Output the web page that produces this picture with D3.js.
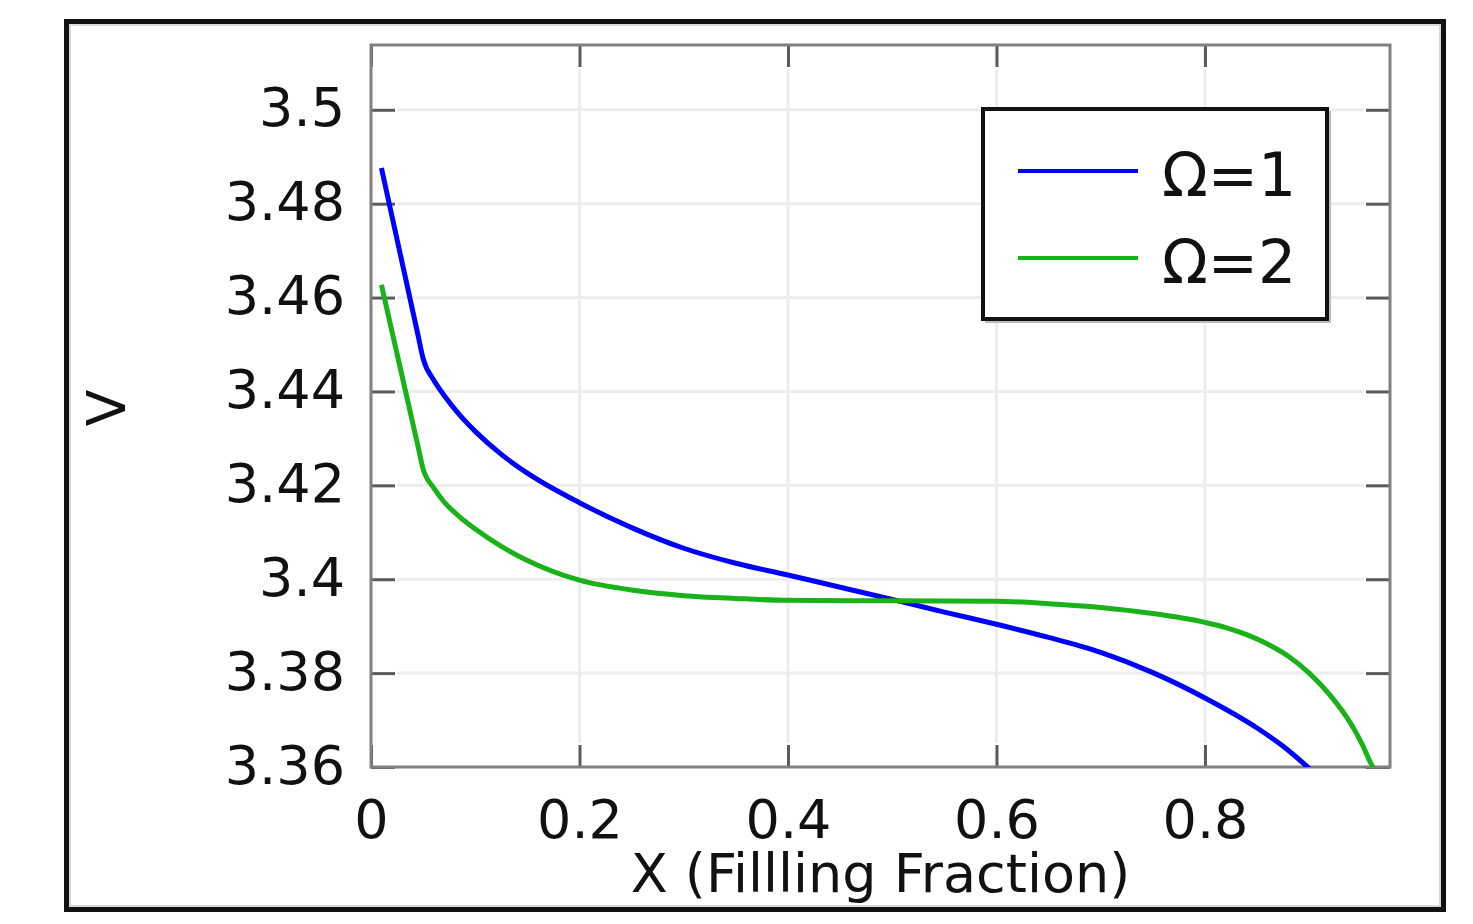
<!DOCTYPE html>
<html>
<head>
<meta charset="utf-8">
<script src="https://cdn.jsdelivr.net/npm/d3@7"></script>
<style>
  html, body { margin: 0; padding: 0; background: #fff; }
  svg { display: block; font-family: "DejaVu Sans", sans-serif; }
</style>
</head>
<body>
<svg id="chart"></svg>
<script>
// data
var xBlue = [0.01, 0.045, 0.05, 0.06, 0.07, 0.085, 0.1, 0.125, 0.15, 0.2, 0.25, 0.3, 0.35, 0.4, 0.45, 0.5, 0.55, 0.6, 0.65, 0.7, 0.75, 0.8, 0.85, 0.875, 0.9];
var vBlue = [3.4876, 3.4521, 3.4470, 3.4425, 3.4392, 3.4350, 3.4315, 3.4266, 3.4226, 3.4163, 3.4110, 3.4066, 3.4034, 3.4009, 3.3983, 3.3957, 3.3930, 3.3904, 3.3876, 3.3844, 3.3801, 3.3747, 3.3683, 3.3644, 3.3597];

var xGreen = [0.01, 0.045, 0.05, 0.06, 0.07, 0.085, 0.1, 0.125, 0.15, 0.2, 0.25, 0.3, 0.35, 0.4, 0.5, 0.6, 0.65, 0.7, 0.75, 0.8, 0.82, 0.84, 0.86, 0.88, 0.9, 0.92, 0.94, 0.95, 0.96, 0.962];
var vGreen = [3.4627, 3.4284, 3.4235, 3.4195, 3.4165, 3.4133, 3.4107, 3.4070, 3.4040, 3.3998, 3.3977, 3.3965, 3.3959, 3.3955, 3.3954, 3.3953, 3.3948, 3.3940, 3.3927, 3.3908, 3.3897, 3.3882, 3.3862, 3.3836, 3.3800, 3.3753, 3.3692, 3.3652, 3.3604, 3.3596];

var seriesNames = ['\u03A9=1', '\u03A9=2'];
var seriesColors = ['#0000ff', '#19b219'];

var xTicks = [0, 0.2, 0.4, 0.6, 0.8];
var xTickLabels = ['0', '0.2', '0.4', '0.6', '0.8'];
var yTicks = [3.36, 3.38, 3.4, 3.42, 3.44, 3.46, 3.48, 3.5];
var yTickLabels = ['3.36', '3.38', '3.4', '3.42', '3.44', '3.46', '3.48', '3.5'];

(function () {
var W = 1473, H = 924
var pLeft = 371, pRight = 1390, pTop = 45, pBottom = 767

var svg = d3.select('#chart').attr('width', W).attr('height', H)

// outer frame
svg.append('rect')
    .attr('x', 66.5).attr('y', 21.5).attr('width', 1377).attr('height', 888)
    .attr('fill', 'none').attr('stroke', '#111').attr('stroke-width', 5)
svg.append('rect')
    .attr('x', 70).attr('y', 25).attr('width', 1370).attr('height', 881)
    .attr('fill', 'none').attr('stroke', '#ccc').attr('stroke-width', 1.5)

var x = d3.scaleLinear().domain([0, 0.9775]).range([pLeft, pRight])
var y = d3.scaleLinear().domain([3.36, 3.5138]).range([pBottom, pTop])

// grid
var grid = svg.append('g')
grid.selectAll('.gx').data(xTicks.slice(1))
    .enter().append('line')
    .attr('x1', d => x(d)).attr('x2', d => x(d))
    .attr('y1', pTop + 24).attr('y2', pBottom - 24)
    .attr('stroke', '#ededed').attr('stroke-width', 3)
grid.selectAll('.gy').data(yTicks.slice(1))
    .enter().append('line')
    .attr('y1', d => y(d)).attr('y2', d => y(d))
    .attr('x1', pLeft + 26).attr('x2', pRight - 26)
    .attr('stroke', '#ededed').attr('stroke-width', 3)

// axes with inward ticks
var fmtX = d => xTickLabels[xTicks.indexOf(d)]
var fmtY = d => yTickLabels[yTicks.indexOf(d)]

var axB = svg.append('g').attr('transform', 'translate(0,' + pBottom + ')')
    .call(d3.axisBottom(x).tickValues(xTicks).tickFormat(fmtX).tickSize(-22).tickPadding(33))
var axT = svg.append('g').attr('transform', 'translate(0,' + pTop + ')')
    .call(d3.axisTop(x).tickValues(xTicks).tickFormat('').tickSize(-22))
var axL = svg.append('g').attr('transform', 'translate(' + pLeft + ',0)')
    .call(d3.axisLeft(y).tickValues(yTicks).tickFormat(fmtY).tickSize(-24).tickPadding(26))
var axR = svg.append('g').attr('transform', 'translate(' + pRight + ',0)')
    .call(d3.axisRight(y).tickValues(yTicks).tickFormat('').tickSize(-24))

;[axB, axT, axL, axR].forEach(a => {
    a.select('.domain').remove()
    a.selectAll('.tick line').attr('stroke', '#5a5a5a').attr('stroke-width', 3)
    a.selectAll('.tick text').attr('fill', '#111').style('font-size', '54px')
        .style('font-family', '"DejaVu Sans", sans-serif')
})
axL.selectAll('.tick text').attr('dy', '0.3em')

// plot frame
svg.append('rect')
    .attr('x', pLeft).attr('y', pTop).attr('width', pRight - pLeft).attr('height', pBottom - pTop)
    .attr('fill', 'none').attr('stroke', '#808080').attr('stroke-width', 3)

// curves
svg.append('clipPath').attr('id', 'clip')
    .append('rect').attr('x', pLeft).attr('y', pTop).attr('width', pRight - pLeft).attr('height', pBottom - pTop)

var line = d3.line().x(d => x(d[0])).y(d => y(d[1])).curve(d3.curveMonotoneX)
var series = [d3.zip(xBlue, vBlue), d3.zip(xGreen, vGreen)]

svg.append('g').attr('clip-path', 'url(#clip)')
    .selectAll('path').data(series).enter().append('path')
    .attr('d', line)
    .attr('fill', 'none')
    .attr('stroke', (d, i) => seriesColors[i])
    .attr('stroke-width', 5)

// axis titles
svg.append('text')
    .attr('x', (pLeft + pRight) / 2).attr('y', 892)
    .attr('text-anchor', 'middle')
    .style('font-size', '54px').attr('fill', '#111')
    .text('X (Fillling Fraction)')
svg.append('text')
    .attr('transform', 'translate(125,408) rotate(-90)')
    .attr('text-anchor', 'middle')
    .style('font-size', '54px').attr('fill', '#111')
    .text('V')

// legend
var lg = svg.append('g')
lg.append('rect')
    .attr('x', 985).attr('y', 111).attr('width', 346).attr('height', 212)
    .attr('fill', '#bbb')
lg.append('rect')
    .attr('x', 983).attr('y', 109).attr('width', 344).attr('height', 210)
    .attr('fill', '#fff').attr('stroke', '#111').attr('stroke-width', 4)
lg.selectAll('g').data(seriesNames).enter().append('g')
    .each(function (d, i) {
        var g = d3.select(this)
        var yy = 171 + i * 87
        g.append('line')
            .attr('x1', 1018).attr('x2', 1138).attr('y1', yy).attr('y2', yy)
            .attr('stroke', seriesColors[i]).attr('stroke-width', 4)
        g.append('text')
            .attr('x', 1162).attr('y', yy + 25)
            .style('font-size', '60px').attr('fill', '#111')
            .text(d)
    })
})();
</script>
</body>
</html>
